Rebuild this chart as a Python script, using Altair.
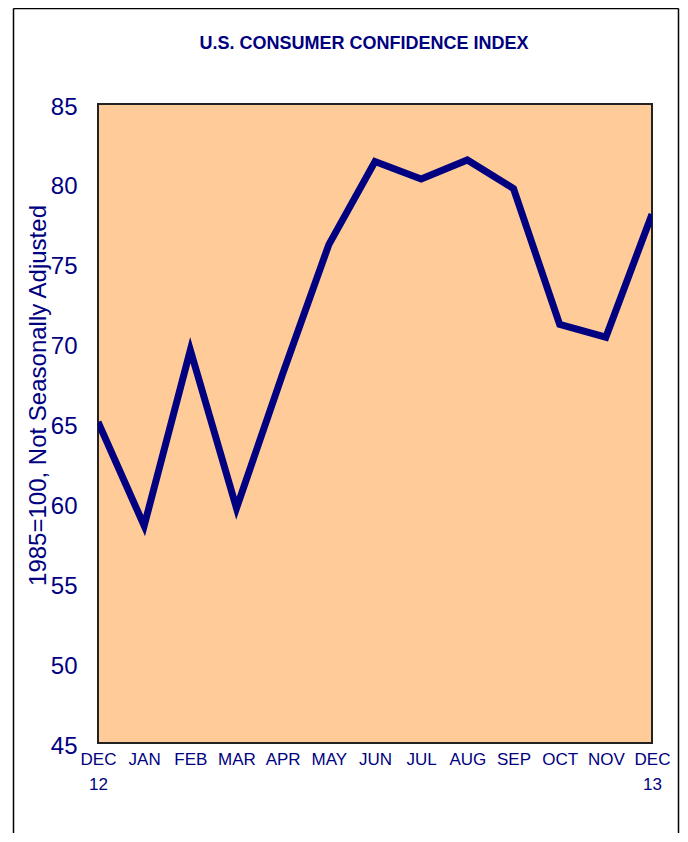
import json
import altair as alt
import pandas as pd

# ---- data ----
months = ["DEC", "JAN", "FEB", "MAR", "APR", "MAY", "JUN", "JUL", "AUG", "SEP", "OCT", "NOV", "DEC"]
years = ["12", "", "", "", "", "", "", "", "", "", "", "", "13"]
values = [65.1, 58.6, 69.6, 59.7, 68.1, 76.2, 81.4, 80.3, 81.5, 79.7, 71.2, 70.4, 78.1]
y_ticks = [45, 50, 55, 60, 65, 70, 75, 80, 85]

title_text = "U.S. CONSUMER CONFIDENCE INDEX"
y_title = "1985=100, Not Seasonally Adjusted"

NAVY = "#000080"
PEACH = "#FFCC99"
FONT = "Liberation Sans, Arial, sans-serif"

df = pd.DataFrame({"idx": list(range(len(months))), "month": months, "value": values})

label_list = [[m, y] if y else m for m, y in zip(months, years)]
label_expr = json.dumps(label_list) + "[datum.value]"

line = alt.Chart(df).mark_line(
    color=NAVY, strokeWidth=7, strokeJoin="miter", clip=True
).encode(
    x=alt.X(
        "idx:Q",
        scale=alt.Scale(domain=[0, len(months) - 1], nice=False, zero=False),
        axis=alt.Axis(
            values=list(range(len(months))),
            labelExpr=label_expr,
            title=None,
            grid=False,
            ticks=False,
            domain=False,
            labelFont=FONT,
            labelFontSize=17,
            labelColor=NAVY,
            labelPadding=8,
            labelLineHeight=25,
            labelOverlap=False,
            labelFlush=False,
            labelBound=False,
            labelAlign="center",
            labelBaseline="top",
        ),
    ),
    y=alt.Y(
        "value:Q",
        scale=alt.Scale(domain=[45, 85], nice=False, zero=False),
        axis=alt.Axis(
            values=y_ticks,
            title=y_title,
            grid=False,
            ticks=False,
            domain=False,
            labelFont=FONT,
            labelFontSize=24,
            labelColor=NAVY,
            labelPadding=21,
            labelOffset=3,
            labelOverlap=False,
            labelFlush=False,
            labelBound=False,
            titleFont=FONT,
            titleFontSize=24,
            titleFontWeight="normal",
            titleColor=NAVY,
            titleX=-53,
            titleY=291,
            titleAngle=270,
            titleBaseline="alphabetic",
            titleAlign="center",
        ),
    ),
)

title = alt.Chart(pd.DataFrame({"t": [title_text]})).mark_text(
    font=FONT, fontSize=18, fontWeight="bold", color=NAVY,
    align="center", baseline="alphabetic", clip=False,
).encode(text="t:N", x=alt.value(266), y=alt.value(-55))

frame_base = alt.Chart(pd.DataFrame({"k": [0]})).mark_rule(color="black", strokeWidth=1.5, clip=False)
frame_left = frame_base.encode(x=alt.value(-84.5), y=alt.value(-95.5), y2=alt.value(760))
frame_right = frame_base.encode(x=alt.value(580.5), y=alt.value(-95.5), y2=alt.value(760))
frame_top = frame_base.encode(x=alt.value(-84.5), x2=alt.value(580.5), y=alt.value(-95.5))

chart = alt.layer(line, title, frame_left, frame_right, frame_top).properties(
    width=554,
    height=639,
    autosize=alt.AutoSizeParams(type="none"),
    padding={"left": 90, "top": 96, "right": 28, "bottom": 90},
).configure(
    background="white"
).configure_view(
    fill=PEACH, stroke="#222222", strokeWidth=2
)

chart.save("out.html", embed_options={"renderer": "svg", "actions": False})
